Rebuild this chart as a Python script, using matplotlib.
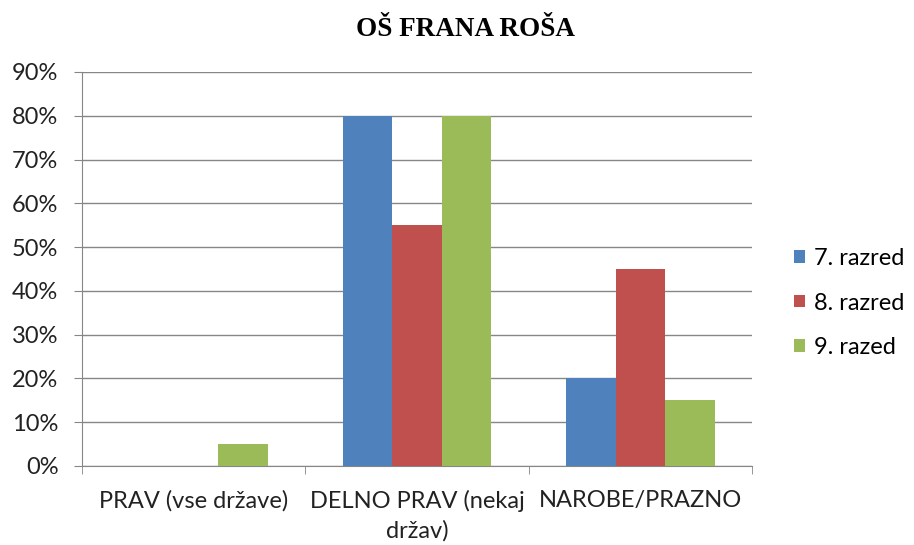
import numpy as np
from matplotlib import pyplot as plt
from matplotlib.ticker import PercentFormatter

# Data
categories = ['PRAV (vse države)', 'DELNO PRAV (nekaj\ndržav)', 'NAROBE/PRAZNO']
series_names = ['7. razred', '8. razred', '9. razed']
razred_7 = [0.00, 0.80, 0.20]
razred_8 = [0.00, 0.55, 0.45]
razred_9 = [0.05, 0.80, 0.15]
colors = ['#4F81BD', '#C0504D', '#9BBB59']

plt.rcParams['font.family'] = ['Lato', 'DejaVu Sans']

fig = plt.figure(figsize=(9.14, 5.45), dpi=100)
ax = fig.add_axes([82 / 914, 1 - 466 / 545, 670 / 914, 394 / 545])

x = np.arange(len(categories))
width = 0.222
for i, (vals, name) in enumerate(zip([razred_7, razred_8, razred_9], series_names)):
    ax.bar(x + (i - 1) * width, vals, width, color=colors[i], label=name, zorder=3)

ax.set_xlim(-0.5, 2.5)
ax.set_ylim(0, 0.9)
ax.set_yticks(np.arange(0, 0.91, 0.1))
ax.yaxis.set_major_formatter(PercentFormatter(1.0, decimals=0))
ax.grid(axis='y', color='#868686', linewidth=1, zorder=0)

ax.set_xticks(x)
ax.set_xticklabels(categories, linespacing=1.5)
ax.set_xticks([-0.5, 0.5, 1.5, 2.5], minor=True)
ax.tick_params(axis='x', which='major', length=0, pad=17, labelsize=17, colors='#222222')
ax.tick_params(axis='x', which='minor', length=6, direction='out', color='#868686')
ax.tick_params(axis='y', length=6, direction='out', color='#868686', labelsize=17,
               labelcolor='#222222', pad=11)

for side in ['top', 'right']:
    ax.spines[side].set_visible(False)
for side in ['left', 'bottom']:
    ax.spines[side].set_color('#868686')

fig.text(466 / 914, 1 - 29 / 545, 'OŠ FRANA ROŠA', family='Liberation Serif',
         fontweight='bold', fontsize=19.5, ha='center', va='center')

fig.legend(loc='center left', bbox_to_anchor=(794 / 914, 1 - 303 / 545),
           frameon=False, fontsize=17, handlelength=0.45, handleheight=0.45,
           handletextpad=0.4, labelspacing=1.0, borderpad=0, borderaxespad=0)

fig.savefig('out.png', dpi=100)
